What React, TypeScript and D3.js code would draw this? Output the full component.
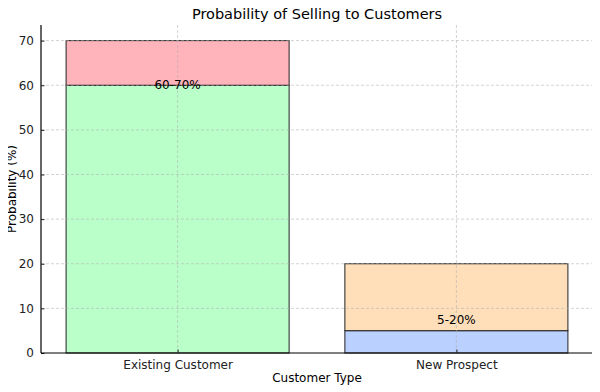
import React, { useEffect, useRef } from "react";
import * as d3 from "d3";

// chart data
const categories = ["Existing Customer", "New Prospect"];
const lowValues = [60, 5];
const highValues = [70, 20];
const lowColors = ["#baffc9", "#bad0ff"];
const highColors = ["#ffb3ba", "#ffdfba"];
const rangeLabels = ["60-70%", "5-20%"];
const labelValues = [60, 7.5];
const yTicks = [0, 10, 20, 30, 40, 50, 60, 70];

const App = () => {
    const svgRef = useRef<SVGSVGElement>(null);

    useEffect(() => {
        const width = 600;
        const height = 392;
        const margin = { top: 25, right: 7, bottom: 39, left: 41 };
        const w = width - margin.left - margin.right;
        const h = height - margin.top - margin.bottom;
        const font = "DejaVu Sans, sans-serif";

        const root = d3.select(svgRef.current);
        root.selectAll("*").remove();
        root.attr("width", width).attr("height", height);

        root.append("rect").attr("width", width).attr("height", height).attr("fill", "#fff");

        const svg = root.append("g").attr("transform", `translate(${margin.left},${margin.top})`);

        // x as a linear scale on category index, like matplotlib
        const x = d3.scaleLinear().domain([-0.49, 1.49]).range([0, w]);
        const y = d3.scaleLinear().domain([0, 73.5]).range([h, 0]);
        const barW = x(0.8) - x(0);

        // bars: lower segment then upper segment
        categories.forEach((c, i) => {
            svg.append("rect")
                .attr("x", x(i) - barW / 2)
                .attr("y", y(lowValues[i]))
                .attr("width", barW)
                .attr("height", y(0) - y(lowValues[i]))
                .attr("fill", lowColors[i])
                .attr("stroke", "#222")
                .attr("stroke-width", 1);
            svg.append("rect")
                .attr("x", x(i) - barW / 2)
                .attr("y", y(highValues[i]))
                .attr("width", barW)
                .attr("height", y(lowValues[i]) - y(highValues[i]))
                .attr("fill", highColors[i])
                .attr("stroke", "#222")
                .attr("stroke-width", 1);
        });

        // grid on top of bars
        const grid = svg.append("g")
            .attr("stroke", "#b0b0b0")
            .attr("stroke-opacity", 0.7)
            .attr("stroke-dasharray", "3,2")
            .attr("stroke-width", 0.8);
        yTicks.slice(1).forEach((t) => {
            grid.append("line").attr("x1", 0).attr("x2", w).attr("y1", y(t)).attr("y2", y(t));
        });
        categories.forEach((c, i) => {
            grid.append("line").attr("x1", x(i)).attr("x2", x(i)).attr("y1", 0).attr("y2", h);
        });

        // range labels
        categories.forEach((c, i) => {
            svg.append("text")
                .attr("x", x(i))
                .attr("y", y(labelValues[i]))
                .attr("dy", "0.35em")
                .attr("text-anchor", "middle")
                .attr("font-family", font)
                .attr("font-size", 12)
                .attr("fill", "#000")
                .text(rangeLabels[i]);
        });

        // axes
        const yAxis = svg.append("g").call(
            d3.axisLeft(y).tickValues(yTicks).tickSize(-3.5).tickPadding(7)
        );
        const xAxis = svg.append("g").attr("transform", `translate(0,${h})`).call(
            d3.axisBottom(x).tickValues([0, 1]).tickFormat((d) => categories[d as number]).tickSize(-3.5).tickPadding(7)
        );
        [yAxis, xAxis].forEach((a) => {
            a.selectAll("text").attr("font-family", font).attr("font-size", 12).attr("fill", "#222");
            a.selectAll("line").attr("stroke", "#222");
            a.select(".domain").attr("stroke", "#000").attr("stroke-width", 1.2);
        });
        yAxis.select(".domain").attr("d", `M0,0V${h}`);
        xAxis.select(".domain").attr("d", `M0,0H${w}`);

        // title and labels
        root.append("text")
            .attr("x", margin.left + w / 2)
            .attr("y", 19)
            .attr("text-anchor", "middle")
            .attr("font-family", font)
            .attr("font-size", 14.5)
            .text("Probability of Selling to Customers");
        root.append("text")
            .attr("x", margin.left + w / 2)
            .attr("y", 382)
            .attr("text-anchor", "middle")
            .attr("font-family", font)
            .attr("font-size", 12)
            .text("Customer Type");
        root.append("text")
            .attr("transform", `translate(16,${margin.top + h / 2}) rotate(-90)`)
            .attr("text-anchor", "middle")
            .attr("font-family", font)
            .attr("font-size", 12)
            .text("Probability (%)");
    }, []);

    return (
        <div style={{ margin: -8 }}>
            <svg ref={svgRef}></svg>
        </div>
    );
};

export default App;
